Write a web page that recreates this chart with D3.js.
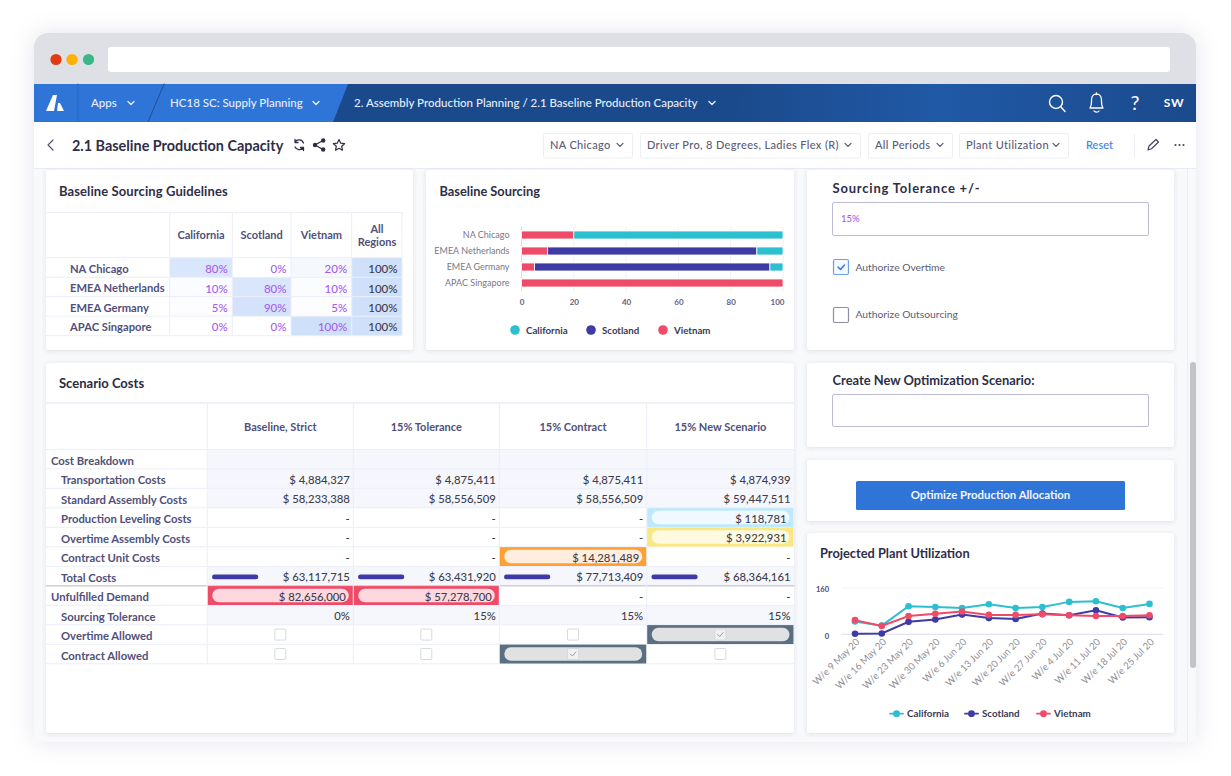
<!DOCTYPE html>
<html><head><meta charset="utf-8">
<script src="https://cdn.jsdelivr.net/npm/d3@7"></script>
<style>html,body{margin:0;padding:0;background:#fff;overflow:hidden}svg{display:block}text{font-family:Lato,"Noto Sans",sans-serif}</style>
</head><body><div id="c"></div>
<script>
// ---------- data ----------
const navItems = ["Apps", "HC18 SC: Supply Planning", "2. Assembly Production Planning / 2.1 Baseline Production Capacity"];
const pageTitle = "2.1 Baseline Production Capacity";
const filterLabels = ["NA Chicago", "Driver Pro, 8 Degrees, Ladies Flex (R)", "All Periods", "Plant Utilization"];
const plants = ["California", "Scotland", "Vietnam"];
const regions = ["NA Chicago", "EMEA Netherlands", "EMEA Germany", "APAC Singapore"];
const californiaShare = [80, 10, 5, 0];
const scotlandShare = [0, 80, 90, 0];
const vietnamShare = [20, 10, 5, 100];
const allRegionsShare = [100, 100, 100, 100];
const barTicks = [0, 20, 40, 60, 80, 100];
const scenarios = ["Baseline, Strict", "15% Tolerance", "15% Contract", "15% New Scenario"];
const costRows = ["Cost Breakdown", "Transportation Costs", "Standard Assembly Costs", "Production Leveling Costs", "Overtime Assembly Costs", "Contract Unit Costs", "Total Costs", "Unfulfilled Demand", "Sourcing Tolerance", "Overtime Allowed", "Contract Allowed"];
const baselineCol = ["", "$ 4,884,327", "$ 58,233,388", "-", "-", "-", "$ 63,117,715", "$ 82,656,000", "0%", "off", "off"];
const toleranceCol = ["", "$ 4,875,411", "$ 58,556,509", "-", "-", "-", "$ 63,431,920", "$ 57,278,700", "15%", "off", "off"];
const contractCol = ["", "$ 4,875,411", "$ 58,556,509", "-", "-", "$ 14,281,489", "$ 77,713,409", "-", "15%", "off", "on"];
const newScenarioCol = ["", "$ 4,874,939", "$ 59,447,511", "$ 118,781", "$ 3,922,931", "-", "$ 68,364,161", "-", "15%", "on", "off"];
const weeks = ["W/e 9 May 20","W/e 16 May 20","W/e 23 May 20","W/e 30 May 20","W/e 6 Jun 20","W/e 13 Jun 20","W/e 20 Jun 20","W/e 27 Jun 20","W/e 4 Jul 20","W/e 11 Jul 20","W/e 18 Jul 20","W/e 25 Jul 20"];
const californiaUtil = [44, 30, 97, 94, 91, 104, 91, 94, 112, 114, 91, 105];
const scotlandUtil = [2, 3, 43, 51, 68, 56, 53, 72, 66, 83, 58, 59];
const vietnamUtil = [49, 29, 63, 71, 79, 67, 67, 69, 66, 63, 63, 66];
const utilTicks = [0, 160];

// ---------- styles ----------
const plantColor = d3.scaleOrdinal(plants, ["#2bbfcf", "#3f3ba6", "#ef4b68"]);
const FONT_INK = "#2e2e47", INK2 = "#50507a", VAL = "#3d3d4d", PURPLE = "#a95cf2", LINE = "#eceef9";

const svg = d3.select("#c").append("svg").attr("width", 1231).attr("height", 776);
const defs = svg.append("defs");
function shadow(id, dev, op, dy){
  const f = defs.append("filter").attr("id", id).attr("x", "-20%").attr("y", "-20%").attr("width", "140%").attr("height", "140%");
  f.append("feDropShadow").attr("dx", 0).attr("dy", dy).attr("stdDeviation", dev).attr("flood-color", "#3a3f5c").attr("flood-opacity", op);
}
shadow("win", 12, .10, 0); shadow("card", 2.2, .14, 1);
const grad = defs.append("linearGradient").attr("id", "navG");
grad.append("stop").attr("offset", 0).attr("stop-color", "#1b4a8c");
grad.append("stop").attr("offset", .45).attr("stop-color", "#2059a6");
grad.append("stop").attr("offset", 1).attr("stop-color", "#1b4a8c");

function T(g, x, y, s, o = {}){
  return g.append("text").attr("x", x).attr("y", y).attr("dy", ".35em").text(s)
    .attr("font-size", o.size || 11).attr("font-weight", o.weight || 400)
    .attr("fill", o.fill || VAL).attr("text-anchor", o.anchor || "start")
    .attr("letter-spacing", o.ls || null);
}
function R(g, x, y, w, h, fill, o = {}){
  return g.append("rect").attr("x", x).attr("y", y).attr("width", w).attr("height", h)
    .attr("fill", fill).attr("rx", o.rx || 0).attr("stroke", o.stroke || "none")
    .attr("stroke-width", o.sw || 1).attr("filter", o.filter || null);
}
function P(g, d, o = {}){
  return g.append("path").attr("d", d).attr("fill", o.fill || "none").attr("stroke", o.stroke || "none")
    .attr("stroke-width", o.sw || 1).attr("stroke-linecap", "round").attr("stroke-linejoin", "round");
}
function chev(g, x, y, c, sw = 1.4){ P(g, `M${x-3},${y-1.6}L${x},${y+1.4}L${x+3},${y-1.6}`, {stroke: c, sw}); }

// ---------- browser window ----------
const root = svg.append("g");
root.append("path").attr("d", "M34,742V47a14,14 0 0 1 14,-14H1182a14,14 0 0 1 14,14V742Z").attr("fill", "#f8f9fb").attr("filter", "url(#win)");
root.append("path").attr("d", "M34,84V47a14,14 0 0 1 14,-14H1182a14,14 0 0 1 14,14V84Z").attr("fill", "#dfe0e5");
R(root, 108, 47, 1062, 25, "#fff", {rx: 3});
[[56, "#e23a12"], [72, "#ffb000"], [88.5, "#3cb684"]].forEach(([x, c]) => root.append("circle").attr("cx", x).attr("cy", 59.5).attr("r", 5.6).attr("fill", c));

// nav bar
const nav = root.append("g");
R(nav, 34, 84, 1162, 38, "#1b4a8c");
nav.append("path").attr("d", "M731,122L746,84H1196V122Z").attr("fill", "url(#navG)");
nav.append("path").attr("d", "M34,84H348L333,122H34Z").attr("fill", "#2f75d8");
P(nav, "M78,84V122", {stroke: "#2a69c4"});
P(nav, "M164,84L148,122", {stroke: "#1f4f94"});
P(nav, "M46,111L53,95H57L54,111ZM58,103H60L64,111H57Z", {fill: "#fff"});
T(nav, 91, 103, navItems[0], {size: 11.5, fill: "#e6eefb", weight: 500}); chev(nav, 131, 103, "#e6eefb");
T(nav, 170, 103, navItems[1], {size: 11.5, fill: "#e6eefb", weight: 500}); chev(nav, 316, 103, "#e6eefb");
T(nav, 354, 103, navItems[2], {size: 11.5, fill: "#e6eefb", weight: 500}); chev(nav, 712, 103, "#e6eefb");
nav.append("circle").attr("cx", 1056).attr("cy", 102).attr("r", 6.5).attr("fill", "none").attr("stroke", "#fff").attr("stroke-width", 1.4);
P(nav, "M1061,107L1065,111.5", {stroke: "#fff", sw: 1.4});
P(nav, "M1090,108C1092,105 1091.5,102 1091.5,100C1091.5,92 1101.5,92 1101.5,100C1101.5,102 1101,105 1103,108ZM1094,111C1096,112.5 1098,112.5 1099,111M1096.5,94.5V93", {stroke: "#fff", sw: 1.3});
T(nav, 1135, 102.5, "?", {size: 20, fill: "#fff", anchor: "middle"});
T(nav, 1174, 103, "SW", {size: 12, fill: "#fff", weight: 700, anchor: "middle", ls: ".8px"});

// sub header
const sub = root.append("g");
R(sub, 34, 122, 1162, 46, "#fff");
P(sub, "M34,168.5H1196", {stroke: "#e9ebf5"});
P(sub, "M53,140L48,145L53,150", {stroke: "#55556f", sw: 1.2});
T(sub, 72, 145.5, pageTitle, {size: 14.4, weight: 700, fill: FONT_INK});
P(sub, "M295,142A4.8,4.8 0 0 1 303.5,143M303,148A4.8,4.8 0 0 1 295,147M295,139.5V142.5H298M303.5,150.5V147.5H300.5", {stroke: "#2e2e47", sw: 1.3});
P(sub, "M323,140.5L315,145L323,149.5", {stroke: "#2e2e47", sw: 1.4});
[[323.2, 140.5], [315, 145], [323.2, 149.5]].forEach(([x, y]) => sub.append("circle").attr("cx", x).attr("cy", y).attr("r", 2.2).attr("fill", "#2e2e47"));
P(sub, "M339,139.6L340.7,143.2L344.6,143.7L341.7,146.3L342.5,150.2L339,148.2L335.5,150.2L336.3,146.3L333.4,143.7L337.3,143.2Z", {stroke: "#2e2e47", sw: 1.2});
const boxes = [[543, 633], [640, 861], [868, 953], [959, 1069]];
filterLabels.forEach((s, i) => {
  const [a, b] = boxes[i];
  R(sub, a + .5, 133.5, b - a - 1, 24.5, "#fff", {stroke: "#eceef6", rx: 2});
  T(sub, a + 7, 145, s, {size: 11, fill: "#5c5c75", weight: 500, ls: ".35px"});
  chev(sub, b - 13, 145, "#55556f", 1.2);
});
T(sub, 1099.5, 145, "Reset", {size: 11, fill: "#3b80e0", weight: 500, anchor: "middle"});
P(sub, "M1134.5,134V157", {stroke: "#eceef6"});
P(sub, "M1148,150L1149,146L1156,139.5L1158.5,142L1151.5,148.8Z", {stroke: "#45455f", sw: 1.2});
[1175.5, 1179.5, 1183.5].forEach(x => sub.append("circle").attr("cx", x).attr("cy", 145).attr("r", 1.1).attr("fill", "#45455f"));

// scrollbar
P(root, "M1187.5,168V742", {stroke: "#eceef3"});
R(root, 1190, 362, 6, 306, "#c2c3c6", {rx: 3});

// cards
const cards = [[46, 170, 367, 180], [426, 170, 368, 180], [807, 170, 367, 180], [46, 363, 748, 370], [807, 363, 367, 84], [807, 460, 367, 61], [807, 533, 367, 200]];
cards.forEach(([x, y, w, h]) => R(root, x, y, w, h, "#fff", {rx: 3, filter: "url(#card)"}));

// ---------- Baseline Sourcing Guidelines table ----------
const gt = root.append("g");
T(gt, 59, 191.5, "Baseline Sourcing Guidelines", {size: 13, weight: 700, fill: FONT_INK, ls: ".1px"});
const gCols = [46, 169.7, 232.3, 291, 351.7, 402];
const gRows = [212.7, 257.7, 277.3, 296.7, 316.2, 335.7];
const heat = d3.scaleLinear().domain([0, 100]).range(["#ffffff", "#cfe0fb"]);
const gData = [californiaShare, scotlandShare, vietnamShare, allRegionsShare];
gData.forEach((col, c) => col.forEach((v, r) => {
  R(gt, gCols[c + 1], gRows[r + 1], gCols[c + 2] - gCols[c + 1], gRows[r + 2] - gRows[r + 1], heat(v));
  T(gt, gCols[c + 2] - 4.5, (gRows[r + 1] + gRows[r + 2]) / 2 + 1.5, v + "%", {size: 11.5, anchor: "end", fill: c < 3 ? PURPLE : VAL, weight: 500});
}));
regions.forEach((s, r) => T(gt, 70, (gRows[r + 1] + gRows[r + 2]) / 2 + 1.5, s, {size: 11.2, weight: 700, fill: INK2}));
gRows.forEach(y => P(gt, `M46,${y}H402`, {stroke: LINE, sw: 1}));
gCols.slice(1).forEach(x => P(gt, `M${x},212.7V335.7`, {stroke: LINE, sw: 1}));
["California", "Scotland", "Vietnam"].forEach((s, c) => T(gt, (gCols[c + 1] + gCols[c + 2]) / 2, 235, s, {size: 11, weight: 700, fill: INK2, anchor: "middle"}));
T(gt, 377, 229.5, "All", {size: 11, weight: 700, fill: INK2, anchor: "middle"});
T(gt, 377, 242, "Regions", {size: 11, weight: 700, fill: INK2, anchor: "middle"});

// ---------- Baseline Sourcing stacked bars ----------
const bs = root.append("g");
T(bs, 439.5, 191.5, "Baseline Sourcing", {size: 12.8, weight: 700, fill: FONT_INK});
const bx = d3.scaleLinear().domain([0, 100]).range([521.5, 783]);
const bandY = d3.scalePoint().domain(regions).range([235, 283]);
const bAxis = bs.append("g").attr("transform", "translate(0,297)")
  .call(d3.axisBottom(bx).tickValues(barTicks).tickSize(0).tickPadding(2));
bAxis.select(".domain").remove();
bAxis.selectAll("text").attr("font-size", 8).attr("font-weight", 700).attr("fill", "#5f5f85").style("font-family", "Lato").attr("dy", ".71em");
bAxis.selectAll(".tick").filter(d => d === 100).select("text").attr("dx", -6);
barTicks.forEach(t => P(bs, `M${bx(t)},227V291`, {stroke: t === 0 ? "#dcdde9" : "#f0f0f4", sw: 1}));
regions.forEach(s => T(bs, 509.5, bandY(s), s, {size: 9, fill: "#77778a", anchor: "end"}));
const stackRows = regions.map((r, i) => ({region: r, Vietnam: vietnamShare[i], Scotland: scotlandShare[i], California: californiaShare[i]}));
const stacked = d3.stack().keys(["Vietnam", "Scotland", "California"])(stackRows);
bs.selectAll("g.s").data(stacked).join("g").attr("class", "s").attr("fill", d => plantColor(d.key))
  .selectAll("rect").data(d => d.filter(p => p[1] > p[0])).join("rect")
  .attr("x", d => bx(d[0])).attr("y", d => bandY(d.data.region) - 4)
  .attr("width", d => bx(d[1]) - bx(d[0])).attr("height", 8)
  .attr("stroke", "#fff").attr("stroke-width", .8);
const bLegendX = [515, 591, 663];
plants.forEach((s, i) => {
  bs.append("circle").attr("cx", bLegendX[i]).attr("cy", 330).attr("r", 4.8).attr("fill", plantColor(s));
  T(bs, bLegendX[i] + 11, 330.5, s, {size: 9.7, weight: 700, fill: "#3a3a55"});
});

// ---------- controls panel ----------
const rp = root.append("g");
T(rp, 832.5, 188.5, "Sourcing Tolerance +/-", {size: 13, weight: 700, fill: FONT_INK, ls: ".8px"});
R(rp, 832.5, 202.5, 316, 33, "#fff", {stroke: "#bdbbd4", rx: 1.5});
T(rp, 841, 218.5, "15%", {size: 9.5, fill: PURPLE, weight: 500});
R(rp, 833.5, 259.5, 15, 15, "#f4f8ff", {stroke: "#6f9fe8", rx: 1.5, sw: 1.2});
P(rp, "M838,267L840.5,269.5L844.5,265", {stroke: "#3b7fe0", sw: 1.6});
T(rp, 855.5, 267, "Authorize Overtime", {size: 10.3, fill: "#5c5c70"});
R(rp, 833.5, 307.5, 15, 15, "#fff", {stroke: "#8d8da3", rx: 1.5, sw: 1.2});
T(rp, 855.5, 314.5, "Authorize Outsourcing", {size: 10.3, fill: "#5c5c70"});
T(rp, 832.5, 380.5, "Create New Optimization Scenario:", {size: 12.9, weight: 700, fill: FONT_INK});
R(rp, 832.5, 394.5, 316, 32, "#fff", {stroke: "#bdbbd4", rx: 1.5});
R(rp, 856, 481, 269, 29, "#2f75d8", {rx: 1.5});
T(rp, 990.5, 495, "Optimize Production Allocation", {size: 11.4, fill: "#f2f6fd", weight: 700, anchor: "middle"});

// ---------- Scenario Costs table ----------
const st = root.append("g");
T(st, 59, 383.5, "Scenario Costs", {size: 13, weight: 700, fill: "#2a2a40"});
const sCols = [46, 207.3, 353.3, 499.3, 646.7, 794];
const sRows = [403, 449.5, 468.9, 488.3, 507.8, 527.3, 546.8, 566.3, 585.8, 605.3, 624.8, 644.3, 663.8];
const sData = [baselineCol, toleranceCol, contractCol, newScenarioCol];
const shaded = ["Cost Breakdown", "Transportation Costs", "Standard Assembly Costs", "Total Costs", "Sourcing Tolerance"];
const highlight = {"3,3": ["#bfe8fa", "#f0f9fe"], "3,4": ["#fbe77f", "#fdfadf"], "2,5": ["#ffa033", "#ffeedd"], "0,7": ["#ef4b68", "#fdd9df"], "1,7": ["#ef4b68", "#fdd9df"], "3,9": ["#5a6f80", "#dfe1e3"], "2,10": ["#5a6f80", "#dfe1e3"]};
costRows.forEach((s, r) => {
  const y0 = sRows[r + 1], y1 = sRows[r + 2];
  if (shaded.includes(s)) R(st, sCols[1], y0, sCols[5] - sCols[1], y1 - y0, "#f6f7fc");
});
sRows.forEach((y, i) => P(st, `M46,${y}H794`, {stroke: i === 8 ? "#cfd0d8" : LINE, sw: i === 8 ? 1.4 : 1}));
sCols.slice(1, 5).forEach(x => P(st, `M${x},403V663.8`, {stroke: LINE, sw: 1}));
P(st, "M46,403H794", {stroke: "#f0f1f8", sw: 2});
scenarios.forEach((s, c) => T(st, (sCols[c + 1] + sCols[c + 2]) / 2, 426.8, s, {size: 11, weight: 700, fill: INK2, anchor: "middle"}));
costRows.forEach((s, r) => {
  const ym = (sRows[r + 1] + sRows[r + 2]) / 2;
  T(st, r === 0 || r === 7 ? 51 : 61, ym + 1.5, s, {size: 11.3, weight: 700, fill: INK2});
  sData.forEach((col, c) => {
    const v = col[r], x0 = sCols[c + 1], x1 = sCols[c + 2], h = highlight[c + "," + r];
    if (h) {
      R(st, x0 + .5, sRows[r + 1] + .3, x1 - x0 - 1, sRows[r + 2] - sRows[r + 1] - .6, h[0]);
      R(st, x0 + 5, sRows[r + 1] + 3, x1 - x0 - 9.5, 13.5, h[1], {rx: 6.7});
    }
    if (v === "on" || v === "off") {
      const xm = (x0 + x1) / 2;
      R(st, xm - 5.5, ym - 5.5, 11, 11, v === "on" ? "#f0f1f2" : "#fff", {stroke: "#d8d9de", rx: 1});
      if (v === "on") P(st, `M${xm-2.6},${ym}L${xm-.6},${ym+2}L${xm+2.8},${ym-2}`, {stroke: "#9a9ba3", sw: 1});
    } else if (v) {
      T(st, x1 - (h ? 7.5 : 3.5), ym + 1.3, v, {size: 11.3, anchor: "end", fill: VAL, weight: 500});
    }
  });
});
sCols.slice(1, 5).forEach(x => R(st, x + 4.7, 574.5, 46.3, 4.8, "#3f3ba6", {rx: 2.4}));

// ---------- Projected Plant Utilization ----------
const pu = root.append("g");
T(pu, 820, 553.5, "Projected Plant Utilization", {size: 12.8, weight: 700, fill: FONT_INK});
const ux = d3.scalePoint().domain(weeks).range([855, 1149.5]);
const uy = d3.scaleLinear().domain([0, 160]).range([634.3, 588]);
utilTicks.forEach(t => P(pu, `M842,${uy(t)}H1163`, {stroke: t ? "#f1f1f5" : "#d9dcee", sw: 1}));
const uAxisL = pu.append("g").attr("transform", "translate(829,1.3)").call(d3.axisLeft(uy).tickValues(utilTicks).tickSize(0).tickPadding(0));
uAxisL.select(".domain").remove();
uAxisL.selectAll("text").attr("font-size", 7.5).attr("font-weight", 700).attr("fill", "#4a4a70").style("font-family", "Lato");
const uAxisB = pu.append("g").attr("transform", "translate(-3,639)").call(d3.axisBottom(ux).tickSize(0).tickPadding(3));
uAxisB.select(".domain").remove();
uAxisB.selectAll("text").attr("font-size", 9.7).attr("fill", "#8f8f98").style("font-family", "Lato")
  .attr("text-anchor", "end").attr("dx", ".3em").attr("dy", ".5em").attr("transform", "rotate(-45)");
const utilSeries = [["California", californiaUtil], ["Scotland", scotlandUtil], ["Vietnam", vietnamUtil]];
const ln = d3.line().x((d, i) => ux(weeks[i])).y(d => uy(d));
utilSeries.forEach(([name, vals]) => {
  const g = pu.append("g");
  g.append("path").datum(vals).attr("d", ln).attr("fill", "none").attr("stroke", plantColor(name)).attr("stroke-width", 2);
  g.selectAll("circle").data(vals).join("circle").attr("cx", (d, i) => ux(weeks[i])).attr("cy", d => uy(d)).attr("r", 3.3).attr("fill", plantColor(name));
});
const uLegendX = [890, 965, 1037];
plants.forEach((s, i) => {
  const x = uLegendX[i];
  P(pu, `M${x},713.7H${x + 13}`, {stroke: plantColor(s), sw: 1.8});
  pu.append("circle").attr("cx", x + 6.5).attr("cy", 713.7).attr("r", 3.4).attr("fill", plantColor(s));
  T(pu, x + 17, 714, s, {size: 9.8, weight: 700, fill: "#3a3a55"});
});
</script></body></html>
